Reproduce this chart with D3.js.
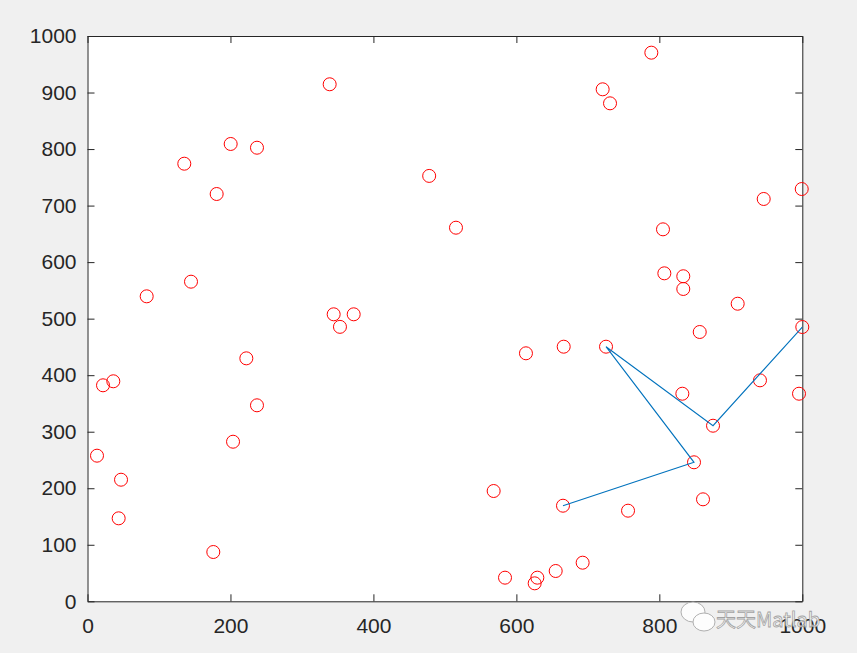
<!DOCTYPE html>
<html lang="en">
<head>
<meta charset="UTF-8">
<title>Random points and route</title>
<script src="https://d3js.org/d3.v7.min.js"></script>
<style>
  body { margin: 0; background: #f0f0f0; }
  svg { display: block; }
  .domain, .tick line { stroke: #262626; }
</style>
</head>
<body>
<svg id="chart" width="857" height="653"></svg>
<script>
// scattered points (x, y)
const pointsX = [338.8, 200.3, 237.1, 135.4, 180.7, 144.8, 82.8, 344.4, 372.4, 353.2, 478.0,
  788.8, 720.7, 731.0, 515.5, 805.1, 946.0, 999.2, 807.0, 833.5, 833.5, 909.6, 856.5, 1000.0,
  222.2, 21.7, 36.1, 237.1, 203.6, 13.3, 46.9, 43.6, 176.0,
  613.4, 666.2, 725.4, 832.2, 940.8, 995.4, 875.1, 848.5, 568.2, 665.2, 756.2, 861.1,
  692.7, 655.0, 584.1, 629.3, 625.6];
const pointsY = [914.6, 809.0, 802.4, 774.1, 720.5, 565.4, 539.5, 507.7, 507.7, 485.5, 752.5,
  970.5, 905.7, 880.9, 660.9, 658.0, 711.7, 729.3, 580.2, 575.0, 552.5, 526.4, 476.4, 485.2,
  429.8, 382.1, 389.2, 346.7, 282.3, 257.6, 215.1, 146.8, 87.2,
  438.7, 450.4, 450.4, 367.2, 390.9, 367.2, 310.6, 245.9, 195.1, 169.1, 160.3, 180.4,
  68.3, 53.6, 41.8, 41.8, 31.8];

// route through selected points
const routeX = [665.2, 848.5, 725.4, 875.1, 1000.0];
const routeY = [169.1, 245.9, 450.4, 310.6, 485.2];

const xTicks = [0, 200, 400, 600, 800, 1000];
const yTicks = [0, 100, 200, 300, 400, 500, 600, 700, 800, 900, 1000];

const margin = { left: 87.5, top: 36, right: 857 - 802.3, bottom: 653 - 601.3 };
const width = 857 - margin.left - margin.right;
const height = 653 - margin.top - margin.bottom;

const svg = d3.select('#chart');
const g = svg.append('g').attr('transform', `translate(${margin.left},${margin.top})`);

const x = d3.scaleLinear().domain([0, 1000]).range([0, width]);
const y = d3.scaleLinear().domain([0, 1000]).range([height, 0]);

g.append('rect').attr('width', width).attr('height', height).attr('fill', '#fff');

const fmt = d3.format('d');

// axes with inward ticks, like matlab box on
const xAxis = g.append('g').attr('transform', `translate(0,${height})`)
  .call(d3.axisBottom(x).tickValues(xTicks).tickFormat(fmt).tickSizeInner(-7).tickSizeOuter(0).tickPadding(16.5));
const yAxis = g.append('g')
  .call(d3.axisLeft(y).tickValues(yTicks).tickFormat(fmt).tickSizeInner(-7).tickSizeOuter(0).tickPadding(11));
g.append('g')
  .call(d3.axisTop(x).tickValues(xTicks).tickSizeInner(-7).tickSizeOuter(0).tickFormat(''));
g.append('g').attr('transform', `translate(${width},0)`)
  .call(d3.axisRight(y).tickValues(yTicks).tickSizeInner(-7).tickSizeOuter(0).tickFormat(''));

[xAxis, yAxis].forEach(a => a
  .attr('font-size', 21)
  .attr('font-family', '"Liberation Sans", Arial, sans-serif')
  .selectAll('text').attr('fill', '#262626'));

const pts = pointsX.map((v, i) => ({ x: v, y: pointsY[i] }));
g.selectAll('circle.pt').data(pts).enter().append('circle')
  .attr('class', 'pt')
  .attr('cx', d => x(d.x)).attr('cy', d => y(d.y)).attr('r', 6.5)
  .attr('fill', 'none').attr('stroke', '#ff0000').attr('stroke-width', 1);

const route = routeX.map((v, i) => [x(v), y(routeY[i])]);
g.append('path').attr('d', d3.line()(route))
  .attr('fill', 'none').attr('stroke', '#0072bd').attr('stroke-width', 1.1);

// watermark
const wm = svg.append('g').attr('opacity', 0.9);
wm.append('ellipse').attr('cx', 693).attr('cy', 612).attr('rx', 12).attr('ry', 10)
  .attr('fill', '#fff').attr('stroke', '#aaa');
wm.append('ellipse').attr('cx', 704).attr('cy', 622).attr('rx', 11).attr('ry', 9)
  .attr('fill', '#fff').attr('stroke', '#aaa');
wm.append('text').attr('x', 716).attr('y', 627).text('天天Matlab')
  .attr('font-size', 20).attr('fill', '#fff').attr('stroke', '#999').attr('stroke-width', 0.8)
  .attr('font-family', '"Noto Sans CJK SC", "Liberation Sans", sans-serif');
</script>
</body>
</html>
